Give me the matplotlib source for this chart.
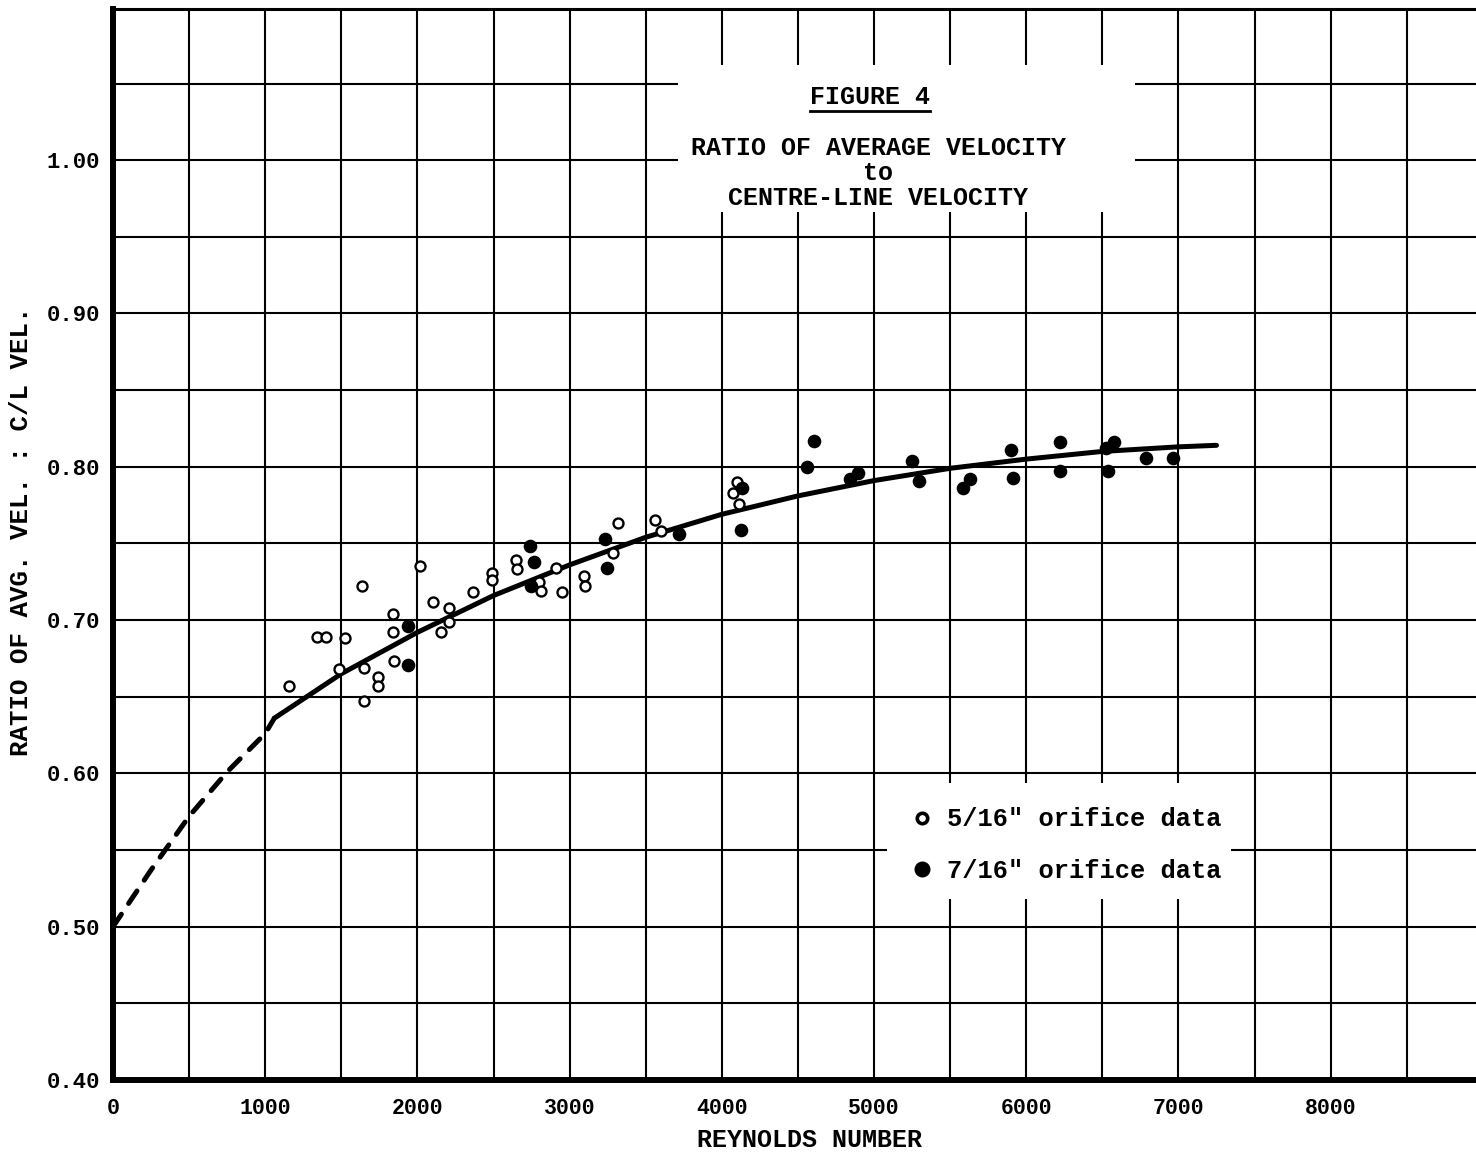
import matplotlib
matplotlib.use("Agg")
import matplotlib.pyplot as plt
from matplotlib.patches import Rectangle
from matplotlib.lines import Line2D

# ---------------- data ----------------
open_x = [1159, 1338, 1399, 1527, 1487, 1638, 1652, 1652, 1743, 1739, 1842, 1842, 1848,
          2019, 2102, 2155, 2210, 2210, 2367, 2492, 2488, 2646, 2652, 2801, 2812, 2909,
          2948, 3095, 3101, 3283, 3321, 3561, 3600, 4102, 4076, 4113]
open_y = [0.657, 0.689, 0.689, 0.688, 0.668, 0.722, 0.669, 0.647, 0.663, 0.657, 0.704, 0.692, 0.673,
          0.735, 0.712, 0.692, 0.708, 0.699, 0.718, 0.731, 0.726, 0.739, 0.733, 0.725, 0.719, 0.734,
          0.718, 0.729, 0.722, 0.744, 0.763, 0.765, 0.758, 0.790, 0.783, 0.776]

filled_x = [1940, 1940, 2740, 2768, 2746, 3232, 3243, 3721, 4134, 4128, 4557, 4606, 4842, 4897,
            5252, 5298, 5587, 5631, 5900, 5911, 6222, 6222, 6524, 6579, 6535, 6785, 6962]
filled_y = [0.696, 0.671, 0.748, 0.738, 0.722, 0.753, 0.734, 0.756, 0.786, 0.759, 0.800, 0.817, 0.792, 0.796,
            0.804, 0.791, 0.786, 0.792, 0.811, 0.793, 0.816, 0.797, 0.8125, 0.816, 0.797, 0.806, 0.806]

# fitted curve
curve_x = [1060, 1500, 2000, 2500, 3000, 3500, 4000, 4500, 5000, 5500, 6000, 6500, 7000, 7250]
curve_y = [0.636, 0.665, 0.692, 0.716, 0.736, 0.754, 0.769, 0.781, 0.791, 0.799, 0.805, 0.810, 0.813, 0.814]
# extrapolated (dashed) part
dash_x = [0, 250, 500, 750, 1000, 1060]
dash_y = [0.500, 0.537, 0.572, 0.601, 0.626, 0.636]

x_ticks = [0, 1000, 2000, 3000, 4000, 5000, 6000, 7000, 8000]
x_tick_labels = ["0", "1000", "2000", "3000", "4000", "5000", "6000", "7000", "8000"]
y_ticks = [0.40, 0.50, 0.60, 0.70, 0.80, 0.90, 1.00]
y_tick_labels = ["0.40", "0.50", "0.60", "0.70", "0.80", "0.90", "1.00"]

label_open = '5/16" orifice data'
label_filled = '7/16" orifice data'
title_lines = "RATIO OF AVERAGE VELOCITY\nto\nCENTRE-LINE VELOCITY"
fig_label = "FIGURE 4"

# ---------------- figure ----------------
FONT = ["Liberation Mono", "DejaVu Sans Mono"]
plt.rcParams["font.family"] = FONT
plt.rcParams["font.weight"] = "bold"
plt.rcParams["axes.labelweight"] = "bold"

W, H = 1476, 1155
fig = plt.figure(figsize=(W / 100, H / 100), dpi=100)
ax = fig.add_axes([113 / W, 75 / H, (W - 113) / W, (1080 - 9) / H])

ax.set_xlim(0, 8955)
ax.set_ylim(0.40, 1.0986)

ax.set_xticks(x_ticks)
ax.set_xticklabels(x_tick_labels)
ax.set_yticks(y_ticks)
ax.set_yticklabels(y_tick_labels)
ax.set_xticks([v + 500 for v in x_ticks], minor=True)
ax.set_yticks([v + 0.05 for v in y_ticks], minor=True)
ax.tick_params(which="both", length=0)
ax.tick_params(axis="x", labelsize=15.5, pad=13)
ax.tick_params(axis="y", labelsize=16, pad=9)

ax.set_axisbelow(True)
ax.grid(which="both", color="black", linewidth=1.5)

for s in ["left", "bottom"]:
    ax.spines[s].set_linewidth(4.3)
ax.spines["top"].set_linewidth(2.2)
ax.spines["right"].set_visible(False)

ax.set_xlabel("REYNOLDS NUMBER", fontsize=18, fontweight="bold")
ax.xaxis.set_label_coords(0.511, -0.045)
ax.set_ylabel("RATIO OF AVG. VEL. : C/L VEL.", fontsize=18.5, fontweight="bold")
ax.yaxis.set_label_coords(-0.0587, 0.512)

# white areas of the sheet behind title and legend
ax.add_patch(Rectangle((0.4145, 0.8105), 0.3353, 0.1372, transform=ax.transAxes,
                       facecolor="white", edgecolor="none", zorder=1))
ax.add_patch(Rectangle((0.568, 0.169), 0.252, 0.1083, transform=ax.transAxes,
                       facecolor="white", edgecolor="none", zorder=1))

# curve
ax.plot(curve_x, curve_y, color="black", linewidth=3.6, solid_capstyle="round",
        solid_joinstyle="round", zorder=3)
ax.plot(dash_x, dash_y, color="black", linewidth=3.6, linestyle=(0, (3, 2.6)),
        dash_capstyle="round", zorder=3)

# data
ax.plot(open_x, open_y, linestyle="none", marker="o", markersize=7.2,
        markerfacecolor="white", markeredgecolor="black", markeredgewidth=1.7, zorder=4)
ax.plot(filled_x, filled_y, linestyle="none", marker="o", markersize=9.8,
        markerfacecolor="black", markeredgecolor="black", markeredgewidth=0, zorder=4)

# legend
h_open = Line2D([], [], linestyle="none", marker="o", markersize=7.5,
                markerfacecolor="white", markeredgecolor="black", markeredgewidth=2.6)
h_filled = Line2D([], [], linestyle="none", marker="o", markersize=10.5,
                  markerfacecolor="black", markeredgecolor="black")
ax.legend([h_open, h_filled], [label_open, label_filled], loc="upper left",
          bbox_to_anchor=(0.5847, 0.2545), frameon=False,
          prop={"size": 18.3, "weight": "bold", "family": FONT},
          handlelength=0.95, handletextpad=0.5, labelspacing=1.08,
          borderpad=0, borderaxespad=0)

# title block
ax.text(0.5554, 0.9178, fig_label, transform=ax.transAxes, ha="center", va="center",
        fontsize=18, zorder=5)
ax.text(0.5613, 0.847, title_lines, transform=ax.transAxes, ha="center", va="center",
        fontsize=18, linespacing=1.05, multialignment="center", zorder=5)

# underline for FIGURE 4
fig.canvas.draw()
t = [tx for tx in ax.texts if tx.get_text() == fig_label][0]
bb = t.get_window_extent().transformed(fig.transFigure.inverted())
fig.add_artist(Line2D([bb.x0, bb.x1], [bb.y0 - 0.002, bb.y0 - 0.002],
                      transform=fig.transFigure, color="black", linewidth=2.0))

fig.savefig("out.png", dpi=100)
